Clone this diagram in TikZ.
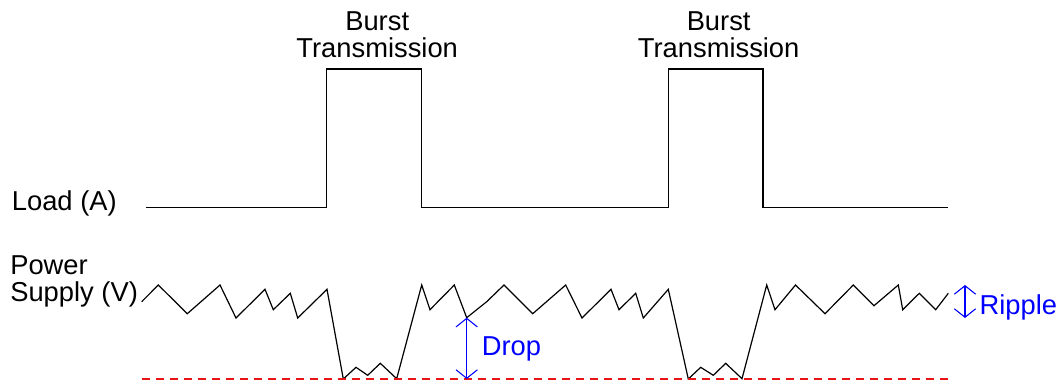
\documentclass[tikz,border=0pt]{standalone}
\usepackage{fontspec}
\setmainfont{Liberation Sans}
\usetikzlibrary{calc}
\usetikzlibrary{arrows.meta}
\definecolor{floorred}{RGB}{235,20,20}

\begin{document}
\begin{tikzpicture}[x=0.75pt, y=-0.75pt, line width=0.9pt, line join=miter,
        label text/.style={inner sep=0pt, font=\fontsize{20.5}{20.5}\selectfont},
        measure/.style={blue, line width=0.8pt,
            {Straight Barb[length=6.4pt,width=16pt]}-{Straight Barb[length=6.4pt,width=16pt]}}]
            \useasboundingbox (0,0) rectangle (1061,383);
            \coordinate (load start) at (146,207.7) {};
            \coordinate (burst1 up) at (326.7,207.7) {};
            \coordinate (burst1 down) at (421.7,207.7) {};
            \coordinate (burst2 up) at (668.3,207.7) {};
            \coordinate (burst2 down) at (763,207.7) {};
            \coordinate (load end) at (948.3,207.7) {};
            \coordinate (burst1 top) at ($(burst1 up) + (0,-138.7)$) {};
            \coordinate (burst1 end) at ($(burst1 down) + (0,-138.7)$) {};
            \coordinate (burst2 top) at ($(burst2 up) + (0,-138.7)$) {};
            \coordinate (burst2 end) at ($(burst2 down) + (0,-138.7)$) {};
            \coordinate (supply start) at (141.7,301.7) {};
            \coordinate (supply end) at (948.3,293.3) {};
            \coordinate (drop top) at (466.7,317.7) {};
            \coordinate (drop bottom) at (466.7,379) {};
            \coordinate (floor start) at (141.7,379) {};
            \coordinate (floor end) at (948.3,379) {};
            \coordinate (ripple top) at (965,285) {};
            \coordinate (ripple bottom) at (965,318) {};
            \node[label text, anchor=base west] (load) at (11.3,210.7) {Load (A)};
            \node[label text, anchor=north west, align=left] (supply) at (9.7,255) {Power\\Supply (V)};
            \node[label text, anchor=north, align=center] (burst1) at ($(burst1 top)!.5!(burst1 end) + (3,-58)$) {Burst\\Transmission};
            \node[label text, anchor=north, align=center] (burst2) at ($(burst2 top)!.5!(burst2 end) + (3,-58)$) {Burst\\Transmission};
            \node[label text, blue, anchor=base west] (drop) at (481.3,355.7) {Drop};
            \node[label text, blue, anchor=base west] (ripple) at (979,314.3) {Ripple};
            \draw (load start) -- (burst1 up) -- (burst1 top) -- (burst1 end) -- (burst1 down)
                -- (burst2 up) -- (burst2 top) -- (burst2 end) -- (burst2 down) -- (load end);
            \draw (supply start) -- (158.3,285) -- (187.3,313.7) -- (220,285) -- (236,318)
                -- (265,289.3) -- (273.3,309.7) -- (290.3,293.3) -- (297.7,318) -- (327,289.3)
                -- (343.3,379) -- (356,367.3) -- (367.7,375.3) -- (380.3,363.3) -- (396.7,378.7)
                -- (421.7,285) -- (430,309.7) -- (454.3,285) -- (drop top) -- (486.7,301.7)
                -- (504,285) -- (532.7,313.7) -- (565.7,285) -- (582,318) -- (611,289.3)
                -- (619,309.7) -- (635.7,293.3) -- (643.3,318) -- (668.3,289.3)
                -- (688.3,379) -- (700.7,367.3) -- (713.3,375.3) -- (725.7,363.3) -- (742,378.7)
                -- (766.7,285) -- (775,309.7) -- (795.5,285) -- (825,313.7) -- (853.3,285)
                -- (874,305.7) -- (898.3,285) -- (902.7,309.7) -- (919.3,293.3) -- (935.7,309.7)
                -- (supply end);
            % dashed floor under the drops
            \draw[floorred, line width=0.9pt, dash pattern=on 6.5pt off 4pt] (floor start) -- (floor end);
            \draw[measure] (drop top) -- (drop bottom);
            \draw[measure] (ripple top) -- (ripple bottom);
        \end{tikzpicture}
\end{document}
